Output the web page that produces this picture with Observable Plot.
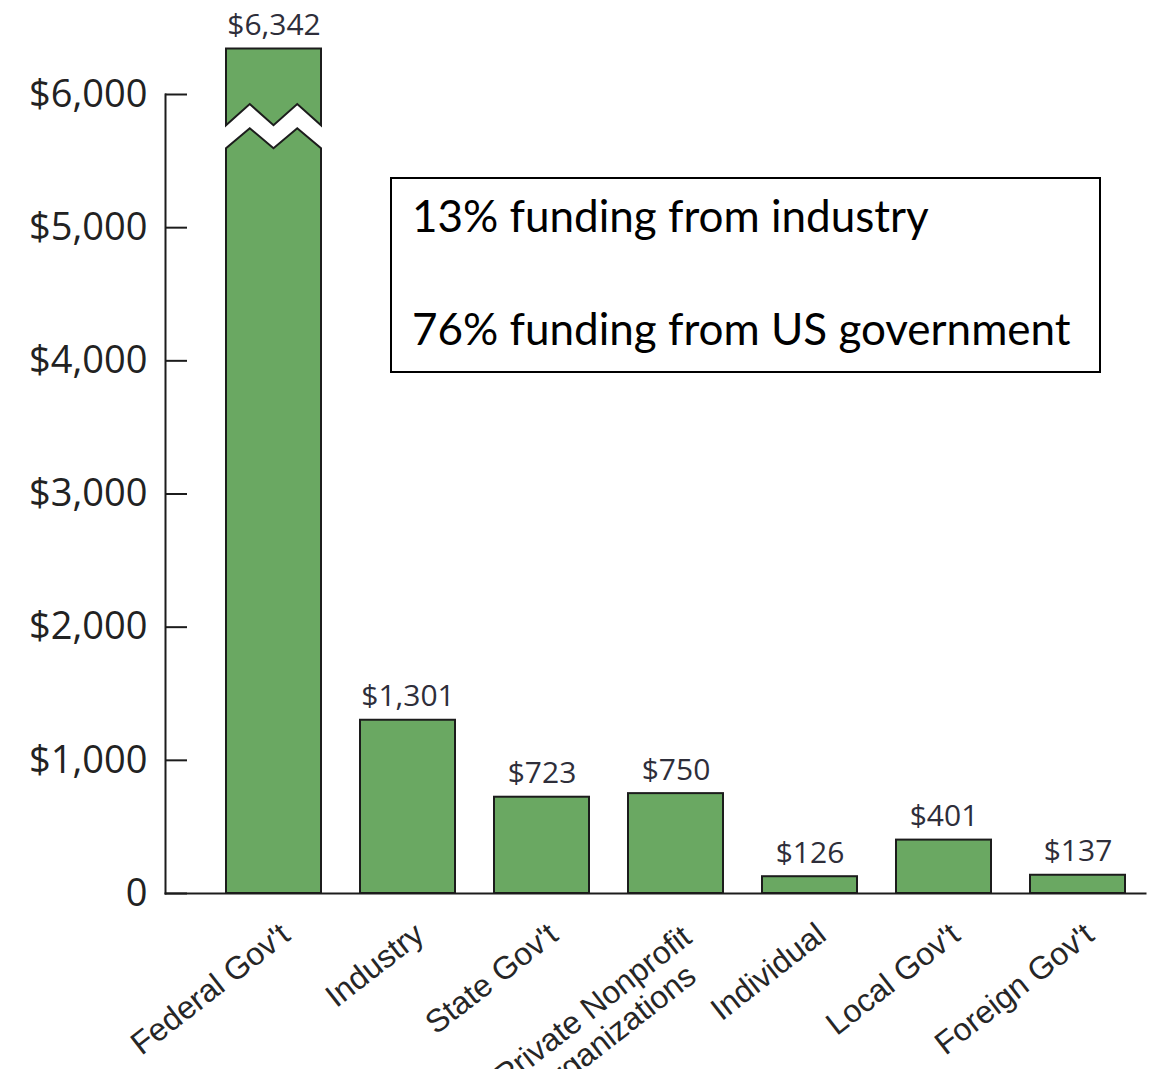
<!DOCTYPE html>
<html>
<head>
<meta charset="utf-8">
<script src="https://cdn.jsdelivr.net/npm/d3@7"></script>
<script src="https://cdn.jsdelivr.net/npm/@observablehq/plot@0.6"></script>
<style>
  html, body { margin: 0; padding: 0; background: #fff; }
  #wrap { position: relative; width: 1159px; height: 1069px; overflow: hidden; }
  #note {
    position: absolute; left: 390px; top: 177px; width: 707px; height: 192px;
    border: 2px solid #000; background: #fff; box-sizing: content-box;
    font-family: Lato, "Open Sans", sans-serif; font-size: 44px; line-height: 1; color: #000;
  }
  #note div { position: absolute; left: 20px; white-space: nowrap; }
</style>
</head>
<body>
<div id="wrap">
  <div id="chart"></div>
  <div id="note">
    <div style="top:14px">13% funding from industry</div>
    <div style="top:127px">76% funding from US government</div>
  </div>
</div>
<script>
// ---- data ----
const categories = ["Federal Gov't", "Industry", "State Gov't", "Private Nonprofit\nOrganizations", "Individual", "Local Gov't", "Foreign Gov't"];
const values = [6342, 1301, 723, 750, 126, 401, 137];
const yTicks = [0, 1000, 2000, 3000, 4000, 5000, 6000];
const valueLabels = ["$6,342", "$1,301", "$723", "$750", "$126", "$401", "$137"];
const brokenCategory = "Federal Gov't";
// axis break on the broken bar, in data units
const breakUpper = {low: 5766, high: 5924};
const breakLower = {low: 5593, high: 5743};

const rows = categories.map((c, i) => ({category: c, value: values[i], label: valueLabels[i]}));

const fillColor = "#6aa862";
const strokeColor = "#1c1c1c";

function brokenBar(index, scales) {
  const x = scales.x, y = scales.y;
  const row = rows.find(r => r.category === brokenCategory);
  const x0 = x(brokenCategory), bw = x.bandwidth();
  const xs = [0, 0.25, 0.5, 0.75, 1].map(f => x0 + f * bw);
  const zig = (b) => [b.low, b.high, b.low, b.high, b.low];
  const g = d3.create("svg:g");
  const up = zig(breakUpper);
  const upperPts = [[xs[0], y(row.value)], [xs[4], y(row.value)]];
  for (let i = 4; i >= 0; i--) upperPts.push([xs[i], y(up[i])]);
  const lo = zig(breakLower);
  const lowerPts = [[xs[0], y(0)]];
  for (let i = 0; i < 5; i++) lowerPts.push([xs[i], y(lo[i])]);
  lowerPts.push([xs[4], y(0)]);
  for (const pts of [upperPts, lowerPts]) {
    g.append("polygon")
      .attr("points", pts.map(p => p.join(",")).join(" "))
      .attr("fill", fillColor)
      .attr("stroke", strokeColor)
      .attr("stroke-width", 2)
      .attr("stroke-linejoin", "miter");
  }
  return g.node();
}

const labelFont = "'Liberation Sans', Arial, sans-serif";
const singleLine = categories.filter(c => !c.includes("\n"));
const multiLine = categories.filter(c => c.includes("\n"));

const chart = Plot.plot({
  width: 1159,
  height: 1069,
  marginTop: 94,
  marginBottom: 176,
  marginLeft: 165,
  marginRight: 14,
  style: {background: "transparent", overflow: "visible"},
  x: {domain: categories, paddingInner: 0.29, paddingOuter: 0.297, align: 0.753, axis: null},
  y: {domain: [0, 6000], axis: null},
  marks: [
    Plot.barY(rows.filter(r => r.category !== brokenCategory), {
      x: "category", y: "value", fill: fillColor, stroke: strokeColor, strokeWidth: 2
    }),
    brokenBar,
    Plot.text(rows, {
      x: "category", y: "value", text: "label", lineAnchor: "bottom", dy: -14,
      fontSize: 30, fill: "#2e2e3a", fontFamily: "'Open Sans', sans-serif"
    }),
    Plot.frame({anchor: "left", stroke: "#1c1c1c", strokeWidth: 2}),
    Plot.frame({anchor: "bottom", stroke: "#1c1c1c", strokeWidth: 2}),
    Plot.axisY({
      ticks: yTicks, tickSize: -22, tickPadding: 40, tickFormat: d => d === 0 ? "0" : "$" + d3.format(",")(d),
      fontSize: 38, fontFamily: "'Open Sans', sans-serif", fill: "#222", stroke: "#1c1c1c", strokeWidth: 2, label: null
    }),
    Plot.text(singleLine, {
      x: d => d, frameAnchor: "bottom", text: d => d, rotate: -38, textAnchor: "end", lineAnchor: "top",
      dx: 4, dy: 27, fontSize: 32, fill: "#262626", fontFamily: labelFont
    }),
    Plot.text(multiLine, {
      x: d => d, frameAnchor: "bottom", text: d => d, rotate: -38, textAnchor: "middle", lineAnchor: "top",
      dx: 4 - 95, dy: 27 + 75, fontSize: 32, fill: "#262626", fontFamily: labelFont, lineHeight: 1.05
    })
  ]
});
document.getElementById("chart").appendChild(chart);
</script>
</body>
</html>
